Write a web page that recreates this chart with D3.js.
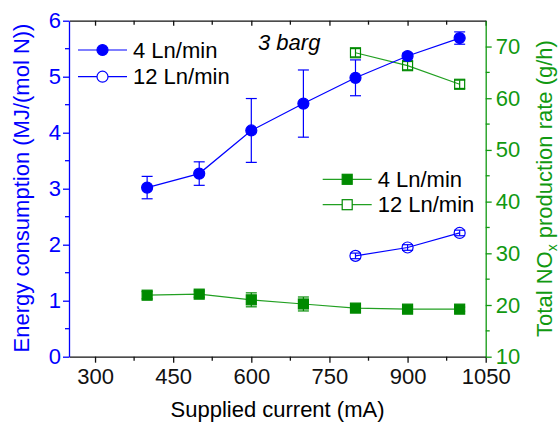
<!DOCTYPE html>
<html><head><meta charset="utf-8">
<script src="https://cdn.jsdelivr.net/npm/d3@7"></script>
<style>
body{margin:0;background:#fff;}
text{font-family:"Liberation Sans",Arial,sans-serif;}
</style></head>
<body><svg id="c" width="558" height="425"></svg>
<script>
const current4 = [400,500,600,700,800,900,1000];
const energy4 = [3.02,3.27,4.04,4.52,4.98,5.37,5.69];
const energy4Err = [0.2,0.21,0.57,0.6,0.32,0.05,0.11];
const current12 = [800,900,1000];
const energy12 = [1.80,1.95,2.21];
const energy12Err = [0.05,0.05,0.05];
const nox4 = [21.9,22.1,21.0,20.2,19.4,19.2,19.2];
const nox4Err = [0.7,0.6,1.35,1.35,0.5,0.4,0.4];
const nox12 = [68.8,66.3,62.7];
const nox12Err = [0.8,0.8,0.8];
const xTicks = [300,450,600,750,900,1050];
const yLTicks = [0,1,2,3,4,5,6];
const yRTicks = [10,20,30,40,50,60,70];

const BLUE="#0000ff", GREEN="#119911", GREEN_M="#008a00", BLACK="#111";
const FS=22;
const L=69, R=485.7, T=20.7, B=356.7;
const svg=d3.select("#c");
const x=d3.scaleLinear().domain([250,1050]).range([L,R]);
const yL=d3.scaleLinear().domain([0,6]).range([B,T]);
const yR=d3.scaleLinear().domain([10,75]).range([B,T]);

function styleAxis(g,color){
  g.select(".domain").attr("stroke",color).attr("stroke-width",1.3);
  g.selectAll(".tick line").attr("stroke",color).attr("stroke-width",1.3);
  g.selectAll(".tick text").attr("fill",color).attr("font-size",FS).attr("font-family","Liberation Sans, Arial, sans-serif");
}
const xMinor=d3.range(375,1050,150);
// bottom axis
const gb=svg.append("g").attr("transform",`translate(0,${B})`)
  .call(d3.axisBottom(x).tickValues(xTicks).tickSize(6).tickSizeOuter(0).tickPadding(6).tickFormat(d3.format("d")));
styleAxis(gb,BLACK);
gb.append("g").selectAll("line").data(xMinor).join("line")
  .attr("x1",d=>x(d)).attr("x2",d=>x(d)).attr("y1",0).attr("y2",4).attr("stroke",BLACK).attr("stroke-width",1.3);
// top axis
const gt=svg.append("g").attr("transform",`translate(0,${T})`)
  .call(d3.axisBottom(x).tickValues(xTicks).tickSize(5).tickSizeOuter(0).tickFormat(""));
styleAxis(gt,BLACK);
gt.append("g").selectAll("line").data(xMinor).join("line")
  .attr("x1",d=>x(d)).attr("x2",d=>x(d)).attr("y1",0).attr("y2",4).attr("stroke",BLACK).attr("stroke-width",1.3);
// left axis
const gl=svg.append("g").attr("transform",`translate(${L},0)`)
  .call(d3.axisLeft(yL).tickValues(yLTicks).tickSize(6).tickSizeOuter(0).tickPadding(2).tickFormat(d3.format("d")));
styleAxis(gl,BLUE);
gl.append("g").selectAll("line").data(d3.range(0.5,6,1)).join("line")
  .attr("y1",d=>yL(d)).attr("y2",d=>yL(d)).attr("x1",0).attr("x2",-4).attr("stroke",BLUE).attr("stroke-width",1.3);
// right axis
const gr=svg.append("g").attr("transform",`translate(${R},0)`)
  .call(d3.axisRight(yR).tickValues(yRTicks).tickSize(6).tickSizeOuter(0).tickPadding(4).tickFormat(d3.format("d")));
styleAxis(gr,GREEN);
gr.append("g").selectAll("line").data(d3.range(15,75,10)).join("line")
  .attr("y1",d=>yR(d)).attr("y2",d=>yR(d)).attr("x1",0).attr("x2",4).attr("stroke",GREEN).attr("stroke-width",1.3);

function series(xs,ys,errs,yScale,color,markerColor,shape,filled){
  const data=xs.map((v,i)=>({x:v,y:ys[i],e:errs[i]}));
  const g=svg.append("g");
  g.append("path").datum(data).attr("fill","none").attr("stroke",color).attr("stroke-width",1.2)
    .attr("d",d3.line().x(d=>x(d.x)).y(d=>yScale(d.y)));
  const eb=g.append("g").selectAll("g").data(data).join("g");
  eb.append("line").attr("x1",d=>x(d.x)).attr("x2",d=>x(d.x)).attr("y1",d=>yScale(d.y-d.e)).attr("y2",d=>yScale(d.y+d.e)).attr("stroke",markerColor).attr("stroke-width",1.2);
  [-1,1].forEach(s=>{
    eb.append("line").attr("x1",d=>x(d.x)-5.5).attr("x2",d=>x(d.x)+5.5).attr("y1",d=>yScale(d.y+s*d.e)).attr("y2",d=>yScale(d.y+s*d.e)).attr("stroke",markerColor).attr("stroke-width",1.2);
  });
  marks(g,data.map(d=>[x(d.x),yScale(d.y)]),markerColor,shape,filled,false);
}
function marks(g,pts,color,shape,filled,legend){
  const fill=filled?color:(legend?"#fff":"none");
  if(shape==="circle"){
    g.append("g").selectAll("circle").data(pts).join("circle").attr("cx",d=>d[0]).attr("cy",d=>d[1]).attr("r",5.5)
      .attr("fill",fill).attr("stroke",color).attr("stroke-width",1.2);
  } else {
    g.append("g").selectAll("rect").data(pts).join("rect").attr("x",d=>d[0]-5).attr("y",d=>d[1]-5).attr("width",10).attr("height",10)
      .attr("fill",fill).attr("stroke",color).attr("stroke-width",1.2);
  }
}
series(current4,nox4,nox4Err,yR,"#22a022",GREEN_M,"square",true);
series(current12,nox12,nox12Err,yR,"#22a022",GREEN_M,"square",false);
series(current4,energy4,energy4Err,yL,BLUE,BLUE,"circle",true);
series(current12,energy12,energy12Err,yL,BLUE,BLUE,"circle",false);

// legends
function legendRow(x1,x2,y,color,mcolor,shape,filled,label,tx){
  const g=svg.append("g");
  g.append("line").attr("x1",x1).attr("x2",x2).attr("y1",y).attr("y2",y).attr("stroke",color).attr("stroke-width",1.2);
  marks(g,[[(x1+x2)/2,y]],mcolor,shape,filled,true);
  g.append("text").attr("x",tx).attr("y",y+7.5).attr("font-size",FS).attr("fill","#000").text(label);
}
legendRow(78,127,50,BLUE,BLUE,"circle",true,"4 Ln/min",133);
legendRow(78,127,76.7,BLUE,BLUE,"circle",false,"12 Ln/min",133);
legendRow(322.7,371.7,179.3,"#22a022",GREEN_M,"square",true,"4 Ln/min",377.7);
legendRow(322.7,371.7,204.7,"#22a022",GREEN_M,"square",false,"12 Ln/min",377.7);

svg.append("text").attr("x",258).attr("y",50).attr("font-size",FS).attr("font-style","italic").attr("fill","#000").text("3 barg");

// axis titles
svg.append("text").attr("x",277.5).attr("y",416.5).attr("text-anchor","middle").attr("font-size",FS).attr("fill","#000").text("Supplied current (mA)");
svg.append("text").attr("transform","translate(28.5,188) rotate(-90)").attr("text-anchor","middle").attr("font-size",FS).attr("fill",BLUE).text("Energy consumption (MJ/(mol N))");
const rt=svg.append("text").attr("transform","translate(552,188.5) rotate(-90)").attr("text-anchor","middle").attr("font-size",FS).attr("fill",GREEN);
rt.append("tspan").text("Total NO");
rt.append("tspan").attr("font-size",14).attr("dy",5).text("x");
rt.append("tspan").attr("dy",-5).text(" production rate (g/h)");
</script></body></html>
